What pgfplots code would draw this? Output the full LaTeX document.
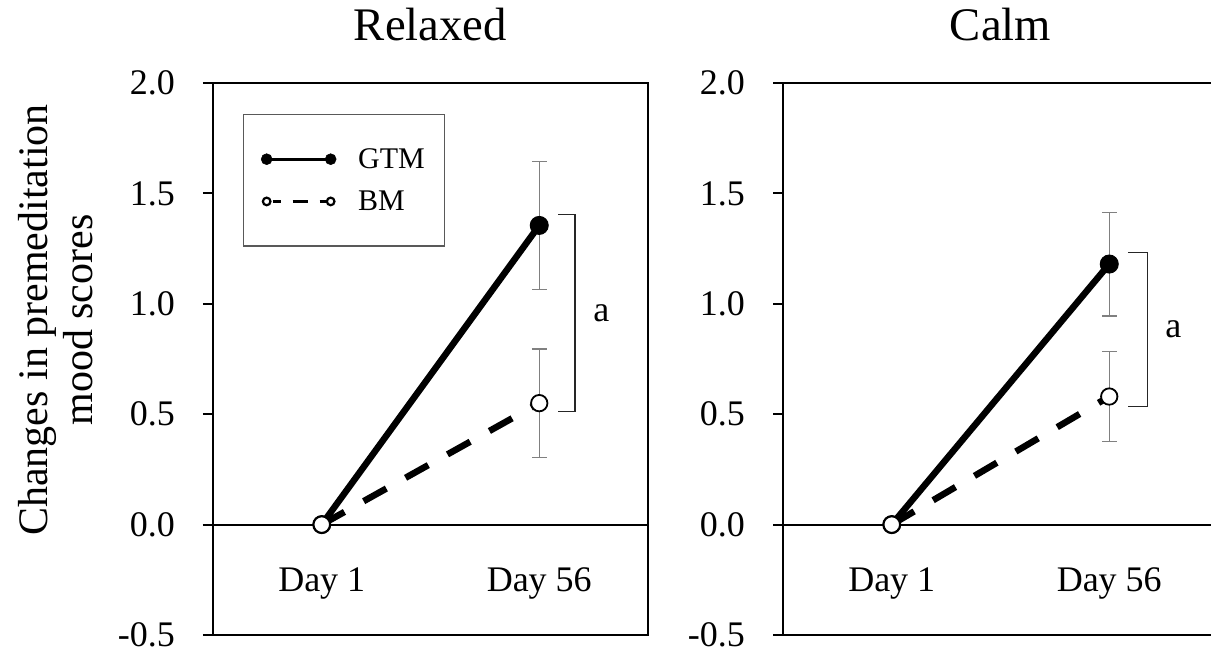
\documentclass[border=0pt]{standalone}
\usepackage{fontspec}
\setmainfont{Liberation Serif}
\usepackage{pgfplots}
\pgfplotsset{compat=1.18}
\begin{document}
\begin{tikzpicture}
\useasboundingbox (0pt,0pt) rectangle (1211pt,650pt);
\pgfplotsset{
 panel/.style={
  scale only axis, width=435pt, height=552pt,
  xmin=0.5, xmax=2.5, ymin=-0.5, ymax=2,
  xtick={1,2}, xticklabels={Day 1, Day 56},
  ytick={-0.5,0,0.5,1,1.5,2}, yticklabels={-0.5,0.0,0.5,1.0,1.5,2.0},
  axis line style={black, line width=2pt},
  major tick length=10pt, tick align=outside, ytick pos=left, xtick pos=bottom,
  ytick style={black, line width=2pt},
  xtick style={draw=none},
  tick label style={font=\fontsize{36}{40}\selectfont},
  xticklabel style={anchor=base, inner sep=0pt, yshift=53pt},
  yticklabel style={inner sep=0pt, anchor=east},
  yticklabel shift=28pt,
  extra y ticks={0}, extra y tick labels={},
  extra y tick style={grid=major, major grid style={black, line width=2pt}},
  clip=false,
  title style={font=\fontsize{46.7}{50}\selectfont, at={(0.5,1)}, anchor=base, yshift=36pt},
  legend image code/.code={\draw[##1] plot coordinates {(0pt,0pt) (64pt,0pt)};},
 },
 gtm/.style={black, line width=6.5pt, mark=*, mark size=9pt, mark options={solid, fill=black, line width=1pt}},
 bm/.style={black, line width=6.5pt, dash pattern=on 26pt off 22pt, mark=*, mark size=8.2pt, mark options={solid, fill=white, line width=1.8pt}},
 ebar/.style={forget plot, draw=none, mark=none, error bars/.cd, y dir=both, y explicit,
   error bar style={draw=gray, solid, line width=1.3pt},
   error mark options={rotate=90, mark size=7.5pt, draw=gray, line width=1.3pt, solid}},
}
% ---------- Relaxed ----------
\begin{axis}[panel, at={(213pt,15pt)}, anchor=south west, title={Relaxed},
  legend style={at={(axis description cs:0.068,0.944)}, anchor=north west,
    draw=gray!70!black, line width=1.2pt, font=\fontsize{30}{33}\selectfont,
    inner xsep=18pt, inner ysep=32pt, row sep=17pt, column sep=20pt, cells={anchor=west}},
  legend cell align=left]
\addplot[ebar] coordinates {(2,1.355) +- (0,0.29) (2,0.55) +- (0,0.245)};
\addplot[gtm, forget plot] coordinates {(1,0) (2,1.355)};
\addplot[bm, forget plot] coordinates {(1,0) (2,0.55)};
\addlegendimage{black, line width=3.2pt, mark=*, mark size=5.5pt, mark options={solid, fill=black, line width=0.5pt}}
\addlegendentry{GTM}
\addlegendimage{black, line width=3.2pt, dash pattern=on 8pt off 12pt on 15pt off 12pt, dash phase=-6pt, mark=*, mark size=3.8pt, mark options={solid, fill=white, line width=2.2pt}}
\addlegendentry{BM}
\draw[black!85, line width=1.3pt] ([xshift=19pt]axis cs:2,1.404) -- ([xshift=35.7pt]axis cs:2,1.404) -- ([xshift=35.7pt]axis cs:2,0.512) -- ([xshift=19pt]axis cs:2,0.512);
\node[font=\fontsize{36}{40}\selectfont, anchor=center] at ([xshift=62pt]axis cs:2,0.958) {a};
\end{axis}
% ---------- Calm ----------
\begin{axis}[panel, at={(783pt,15pt)}, anchor=south west, title={Calm}]
\addplot[ebar] coordinates {(2,1.18) +- (0,0.235) (2,0.58) +- (0,0.205)};
\addplot[gtm] coordinates {(1,0) (2,1.18)};
\addplot[bm] coordinates {(1,0) (2,0.58)};
\draw[black!85, line width=1.3pt] ([xshift=18.7pt]axis cs:2,1.233) -- ([xshift=38pt]axis cs:2,1.233) -- ([xshift=38pt]axis cs:2,0.536) -- ([xshift=18.7pt]axis cs:2,0.536);
\node[font=\fontsize{36}{40}\selectfont, anchor=center] at ([xshift=64pt]axis cs:2,0.885) {a};
\end{axis}
\node[rotate=90, align=center, font=\fontsize{42}{45}\selectfont] at (56pt,330pt) {Changes in premeditation\\mood scores};
\end{tikzpicture}
\end{document}
